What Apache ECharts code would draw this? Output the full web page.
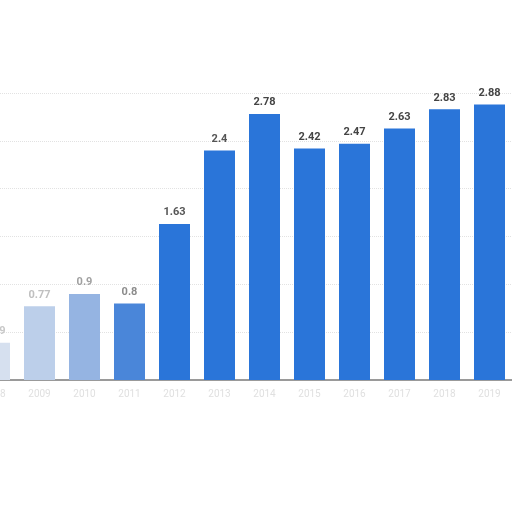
<!DOCTYPE html>
<html><head><meta charset="utf-8">
<script src="https://cdn.jsdelivr.net/npm/echarts@6/dist/echarts.min.js"></script>
<style>html,body{margin:0;padding:0;background:#fff;overflow:hidden;width:512px;height:512px}#c{position:absolute;left:-28px;top:0;width:540px;height:512px}</style>
</head><body><div id="c"></div>
<script>
const categories = ['2008','2009','2010','2011','2012','2013','2014','2015','2016','2017','2018','2019'];
const values = [0.39, 0.77, 0.9, 0.8, 1.63, 2.4, 2.78, 2.42, 2.47, 2.63, 2.83, 2.88];
const labelTexts = ['0.39','0.77','0.9','0.8','1.63','2.4','2.78','2.42','2.47','2.63','2.83','2.88'];
const barColors = ['#d6e0ef','#bccfea','#95b4e2','#4a86d9','#2a75d9','#2a75d9','#2a75d9','#2a75d9','#2a75d9','#2a75d9','#2a75d9','#2a75d9'];
const labelColors = ['#c8c8c8','#c0c0c0','#a0a0a0','#8c8c8c','#555555','#555555','#444444','#444444','#444444','#444444','#444444','#444444'];

const chart = echarts.init(document.getElementById('c'));
chart.setOption({
  animation: false,
  backgroundColor: '#ffffff',
  grid: { left: 0, right: 0, top: 93, bottom: 132, containLabel: false },
  xAxis: {
    type: 'category',
    data: categories,
    axisLine: { lineStyle: { color: '#9a9a9a', width: 2 } },
    axisTick: { show: false },
    axisLabel: { color: '#e0e0e0', fontSize: 10, fontFamily: 'Roboto', margin: 9 }
  },
  yAxis: {
    type: 'value', min: 0, max: 3, interval: 0.5,
    axisLabel: { show: false },
    axisLine: { show: false }, axisTick: { show: false },
    splitLine: { lineStyle: { color: '#e2e2e2', type: 'dotted' } }
  },
  series: [{
    type: 'bar',
    barWidth: 31,
    data: values.map((v, i) => ({
      value: v,
      itemStyle: { color: barColors[i] },
      label: { color: labelColors[i], formatter: labelTexts[i] }
    })),
    label: {
      show: true, position: 'top', distance: 6,
      fontSize: 11, fontWeight: 'bold', fontFamily: 'Roboto'
    }
  }]
});
</script></body></html>
